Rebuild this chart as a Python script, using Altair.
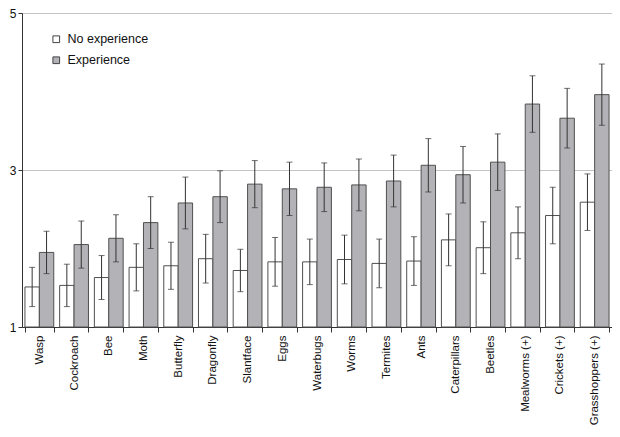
import altair as alt
import pandas as pd

categories = ["Wasp", "Cockroach", "Bee", "Moth", "Butterfly", "Dragonfly", "Slantface",
              "Eggs", "Waterbugs", "Worms", "Termites", "Ants", "Caterpillars", "Beetles",
              "Mealworms (+)", "Crickets (+)", "Grasshoppers (+)"]
groups = ["No experience", "Experience"]
no_exp = [1.51, 1.53, 1.63, 1.76, 1.78, 1.87, 1.72, 1.83, 1.83, 1.86, 1.81, 1.84, 2.11, 2.01, 2.20, 2.42, 2.59]
no_exp_err = [0.25, 0.27, 0.28, 0.30, 0.30, 0.31, 0.27, 0.31, 0.29, 0.31, 0.31, 0.31, 0.33, 0.33, 0.33, 0.36, 0.36]
exp = [1.95, 2.05, 2.13, 2.33, 2.58, 2.66, 2.82, 2.76, 2.78, 2.81, 2.86, 3.06, 2.94, 3.10, 3.84, 3.66, 3.96]
exp_err = [0.27, 0.30, 0.30, 0.33, 0.33, 0.33, 0.30, 0.34, 0.31, 0.33, 0.33, 0.34, 0.36, 0.36, 0.36, 0.38, 0.39]
y_ticks = [1, 3, 5]

rows = []
for i, c in enumerate(categories):
    for g, vals, errs in ((groups[0], no_exp, no_exp_err), (groups[1], exp, exp_err)):
        v, e = vals[i], errs[i]
        rows.append({"category": c, "group": g, "value": v, "lo": v - e, "hi": v + e})
df = pd.DataFrame(rows)

FONT = "Liberation Sans"

x_enc = alt.X("category:N", sort=categories,
              scale=alt.Scale(paddingInner=0.17, paddingOuter=0.085),
              axis=alt.Axis(title=None, labelAngle=-90, labelAlign="right", labelBaseline="middle",
                            tickBand="extent", tickSize=5, tickColor="#333", domainColor="#333",
                            labelFontSize=11.5, labelPadding=3, labelColor="#111", labelFont=FONT))
xo_enc = alt.XOffset("group:N", sort=groups, scale=alt.Scale(paddingInner=0, paddingOuter=0))
y_scale = alt.Scale(domain=[1, 5], nice=False, zero=False)

base = alt.Chart(df)

bars = base.mark_bar(stroke="#505050", strokeWidth=1).encode(
    x=x_enc,
    xOffset=xo_enc,
    y=alt.Y("value:Q", scale=y_scale,
            axis=alt.Axis(title=None, values=y_ticks, format="d", grid=True, gridColor="#c4c4c4",
                          domainColor="#333", tickColor="#333", tickSize=4,
                          labelFontSize=12, labelPadding=2, labelColor="#111", labelFont=FONT)),
    y2=alt.datum(1),
    fill=alt.Fill("group:N", sort=groups,
                  scale=alt.Scale(domain=groups, range=["#ffffff", "#b3b3b7"]),
                  legend=alt.Legend(title=None, orient="none", legendX=28, legendY=20,
                                    symbolType="square", symbolSize=45, symbolStrokeColor="#444",
                                    symbolStrokeWidth=1, labelFontSize=12.5, labelFont=FONT,
                                    labelColor="#111", rowPadding=8, labelOffset=5, padding=0)),
)

err = base.mark_rule(color="#333", strokeWidth=1).encode(
    x=x_enc, xOffset=xo_enc,
    y=alt.Y("lo:Q", scale=y_scale), y2="hi:Q",
)
cap_hi = base.mark_tick(color="#333", thickness=1, size=6).encode(
    x=x_enc, xOffset=xo_enc, y=alt.Y("hi:Q", scale=y_scale),
)
cap_lo = base.mark_tick(color="#333", thickness=1, size=6).encode(
    x=x_enc, xOffset=xo_enc, y=alt.Y("lo:Q", scale=y_scale),
)

chart = alt.layer(bars, err, cap_hi, cap_lo).properties(
    width=590, height=314,
    autosize=alt.AutoSizeParams(type="none"),
    padding={"left": 14, "top": 5, "right": 0, "bottom": 98},
).configure_view(stroke=None).configure(background="white")

chart.save("out.html", embed_options={"renderer": "svg", "actions": False})
